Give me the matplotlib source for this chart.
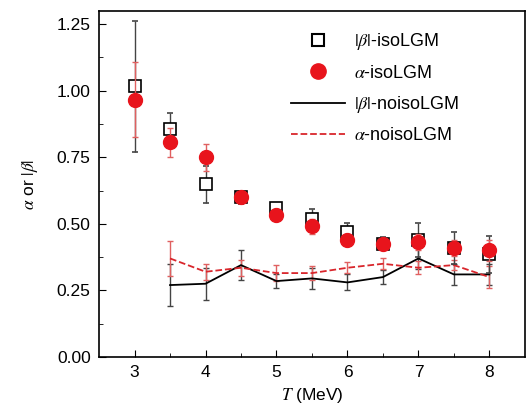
import matplotlib
matplotlib.use('Agg')
import matplotlib.pyplot as plt
from matplotlib.lines import Line2D

plt.rcParams['font.family'] = ['Liberation Sans', 'DejaVu Sans']
plt.rcParams['mathtext.fontset'] = 'stix'

T_iso = [3, 3.5, 4, 4.5, 5, 5.5, 6, 6.5, 7, 7.5, 8]
beta_iso = [1.016, 0.855, 0.649, 0.60, 0.56, 0.52, 0.47, 0.425, 0.44, 0.41, 0.385]
beta_iso_err = [0.245, 0.06, 0.07, 0.025, 0.02, 0.035, 0.035, 0.025, 0.065, 0.06, 0.07]
alpha_iso = [0.966, 0.806, 0.75, 0.60, 0.535, 0.49, 0.44, 0.425, 0.43, 0.41, 0.40]
alpha_iso_err = [0.14, 0.055, 0.05, 0.02, 0.02, 0.03, 0.02, 0.02, 0.03, 0.03, 0.04]

T_noiso = [3.5, 4, 4.5, 5, 5.5, 6, 6.5, 7, 7.5, 8]
beta_noiso = [0.27, 0.275, 0.345, 0.285, 0.295, 0.28, 0.30, 0.37, 0.31, 0.31]
beta_noiso_err = [0.08, 0.06, 0.055, 0.025, 0.04, 0.03, 0.025, 0.04, 0.04, 0.04]
alpha_noiso = [0.37, 0.32, 0.335, 0.315, 0.315, 0.335, 0.35, 0.335, 0.345, 0.30]
alpha_noiso_err = [0.065, 0.03, 0.03, 0.03, 0.025, 0.02, 0.02, 0.025, 0.02, 0.04]

labels = [r'$|\beta|$-isoLGM', r'$\alpha$-isoLGM', r'$|\beta|$-noisoLGM', r'$\alpha$-noisoLGM']

fig = plt.figure(figsize=(5.27, 4.17), dpi=100)
ax = fig.add_axes([0.188, 0.144, 0.808, 0.830])

ax.errorbar(T_noiso, beta_noiso, yerr=beta_noiso_err, color='black', lw=1.3,
            ecolor='#444444', elinewidth=1, capsize=2.5, zorder=2)
ax.errorbar(T_noiso, alpha_noiso, yerr=alpha_noiso_err, color='#d9262c', lw=1.3, ls='--',
            ecolor='#e06060', elinewidth=1, capsize=2.5, zorder=2)
ax.errorbar(T_iso, beta_iso, yerr=beta_iso_err, fmt='s', ms=9, mfc='white', mec='black',
            mew=1.2, ecolor='#444444', elinewidth=1, capsize=2.5, zorder=3)
ax.errorbar(T_iso, alpha_iso, yerr=alpha_iso_err, fmt='o', ms=10, mfc='#e8141c', mec='#e8141c',
            ecolor='#e06060', elinewidth=1, capsize=2.5, zorder=4)

ax.set_xlim(2.5, 8.5)
ax.set_ylim(0, 1.3)
ax.set_xticks([3, 4, 5, 6, 7, 8])
ax.set_xticks([3.5, 4.5, 5.5, 6.5, 7.5], minor=True)
ax.set_yticks([0, 0.25, 0.5, 0.75, 1.0, 1.25])
ax.set_yticklabels(['0.00', '0.25', '0.50', '0.75', '1.00', '1.25'])
ax.set_yticks([0.125, 0.375, 0.625, 0.875, 1.125], minor=True)
ax.tick_params(which='both', direction='in', labelsize=12.5)
ax.tick_params(which='major', length=5, pad=6)
ax.tick_params(which='minor', length=3)
for s in ax.spines.values():
    s.set_linewidth(1.2)

ax.set_xlabel(r'$T$ (MeV)', fontsize=12.5, labelpad=4)
ax.set_ylabel(r'$\alpha$ or $|\beta|$', fontsize=12.5, labelpad=12)

handles = [
    Line2D([], [], ls='none', marker='s', ms=8, mfc='white', mec='black', mew=1.5),
    Line2D([], [], ls='none', marker='o', ms=11, mfc='#e8141c', mec='#e8141c'),
    Line2D([], [], color='black', lw=1.3),
    Line2D([], [], color='#d9262c', lw=1.3, ls='--'),
]
ax.legend(handles, labels, loc='upper left', bbox_to_anchor=(0.552, 0.925),
          bbox_transform=fig.transFigure, frameon=False, fontsize=13,
          handlelength=3.0, handletextpad=0.5, labelspacing=0.68,
          borderpad=0, borderaxespad=0)

fig.savefig('out.png', dpi=100)
